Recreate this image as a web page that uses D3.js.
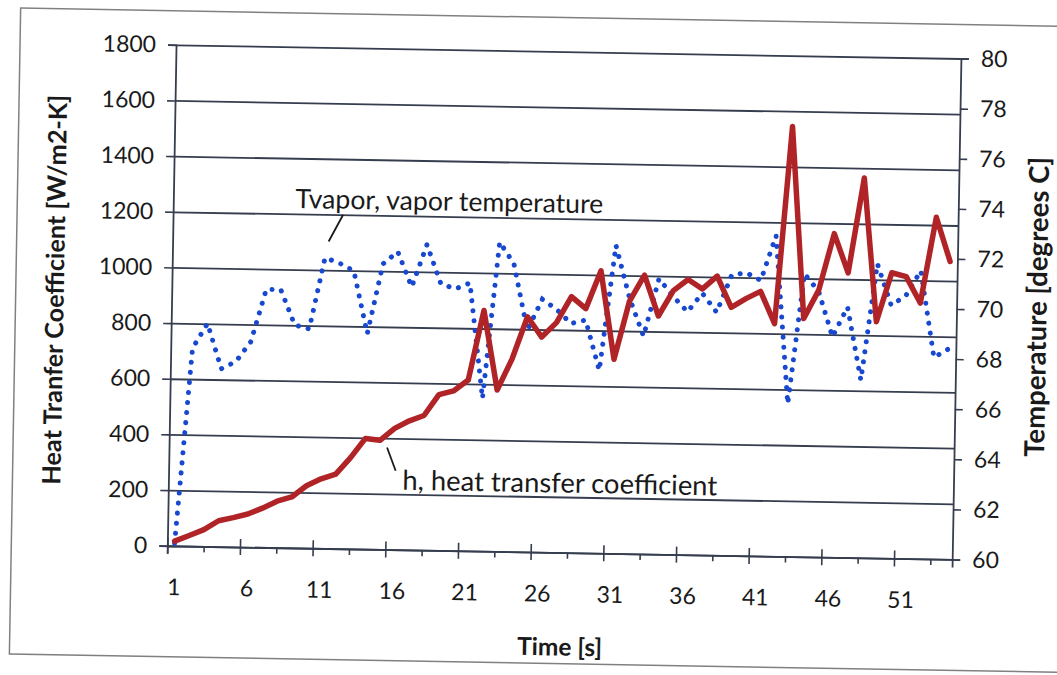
<!DOCTYPE html>
<html>
<head>
<meta charset="utf-8">
<script src="https://d3js.org/d3.v7.min.js"></script>
<style>
  body { margin: 0; background: #fff; }
  svg { display: block; }
  text { font-family: Lato, "Open Sans", sans-serif; fill: #1a1a1a; }
</style>
</head>
<body>
<svg id="chart" width="1057" height="675"></svg>
<script>
// time steps 1..54 (category axis)
var times = d3.range(1, 55);

// h, heat transfer coefficient [W/m2-K]
var hValues = [
  17, 38, 60, 93, 105, 119, 141, 167, 183, 224,
  250, 268, 328, 398, 392, 436, 464, 484, 560, 574,
  614, 865, 580, 694, 845, 773, 826, 920, 878, 1015,
  698, 908, 1002, 856, 948, 989, 956, 1003, 892, 924,
  951, 836, 1545, 856, 959, 1163, 1023, 1365, 849, 1026,
  1013, 919, 1228, 1070
];

// Tvapor, vapor temperature [degrees C]
var tVapor = [
  60.1, 67.9, 68.9, 67.1, 67.4, 68.2, 70.3, 70.3, 68.9, 68.75,
  71.6, 71.4, 71.1, 68.6, 71.4, 71.9, 70.5, 72.2, 70.65, 70.45,
  70.7, 66.1, 72.35, 71.5, 68.85, 70.1, 69.7, 69.15, 69.3, 67.3,
  72.3, 70.2, 68.7, 71.0, 70.3, 69.7, 70.45, 69.7, 71.2, 71.3,
  71.0, 72.8, 66.1, 71.3, 70.6, 68.8, 70.0, 67.1, 71.75, 70.1,
  70.5, 71.5, 68.05, 68.4
];

var xLabels = [1, 6, 11, 16, 21, 26, 31, 36, 41, 46, 51];
var hTicks = d3.range(0, 1801, 200);
var tTicks = d3.range(60, 81, 2);

var plotL = 171, plotR = 956, plotT = 51, plotB = 552;
var gridColor = "#353d4e";
var tickFont = 23;

var svg = d3.select("#chart");
// the scanned chart sits slightly rotated on the page
var g = svg.append("g").attr("transform", "rotate(1, 528, 337)");

// outer chart frame
g.append("rect")
  .attr("x", 15).attr("y", 17)
  .attr("width", 1100).attr("height", 646)
  .attr("fill", "none")
  .attr("stroke", "#808080")
  .attr("stroke-width", 1.5);

var x = d3.scaleBand().domain(times).range([plotL, plotR]);
var xb = d3.scaleLinear().domain([0, times.length]).range([plotL, plotR]);
var yh = d3.scaleLinear().domain([0, 1800]).range([plotB, plotT]);
var yt = d3.scaleLinear().domain([60, 80]).range([plotB, plotT]);

// horizontal gridlines
g.append("g")
  .attr("transform", "translate(" + plotL + ",0)")
  .call(d3.axisLeft(yh).tickValues(hTicks).tickSize(-(plotR - plotL)).tickFormat(""))
  .call(function (s) {
    s.select(".domain").remove();
    s.selectAll("line").attr("stroke", gridColor).attr("stroke-width", 1.8);
  });

// left axis
g.append("g")
  .attr("transform", "translate(" + plotL + ",0)")
  .call(d3.axisLeft(yh).tickValues(hTicks).tickSize(8).tickPadding(12).tickFormat(d3.format("d")))
  .call(function (s) {
    s.select(".domain").attr("stroke", gridColor).attr("stroke-width", 1.8);
    s.selectAll("line").attr("stroke", gridColor).attr("stroke-width", 1.6);
    s.selectAll("text").attr("font-size", tickFont).attr("fill", "#1a1a1a");
  });

// right axis
g.append("g")
  .attr("transform", "translate(" + plotR + ",0)")
  .call(d3.axisRight(yt).tickValues(tTicks).tickSize(8).tickPadding(12))
  .call(function (s) {
    s.select(".domain").attr("stroke", gridColor).attr("stroke-width", 1.8);
    s.selectAll("line").attr("stroke", gridColor).attr("stroke-width", 1.6);
    s.selectAll("text").attr("font-size", tickFont).attr("fill", "#1a1a1a");
  });

// bottom axis: major ticks cross the line, minor ticks below only
g.append("g")
  .attr("transform", "translate(0," + plotB + ")")
  .call(d3.axisBottom(xb).tickValues(d3.range(0, 51, 5)).tickSize(8).tickFormat(""))
  .call(function (s) {
    s.select(".domain").attr("stroke", gridColor).attr("stroke-width", 1.8);
    s.selectAll("line").attr("y1", -8).attr("stroke", gridColor).attr("stroke-width", 1.6);
  });
g.append("g")
  .attr("transform", "translate(0," + plotB + ")")
  .call(d3.axisBottom(xb).tickValues(d3.range(2.5, 54, 5)).tickSize(6).tickFormat(""))
  .call(function (s) {
    s.select(".domain").remove();
    s.selectAll("line").attr("stroke", gridColor).attr("stroke-width", 1.6);
  });
g.append("g")
  .attr("transform", "translate(0," + plotB + ")")
  .call(d3.axisBottom(x).tickValues(xLabels).tickSize(0).tickPadding(33))
  .call(function (s) {
    s.select(".domain").remove();
    s.selectAll("text").attr("font-size", tickFont).attr("fill", "#1a1a1a");
  });

// series
var hLine = d3.line()
  .x(function (d, i) { return x(times[i]) + x.bandwidth() / 2; })
  .y(function (d) { return yh(d); });

var tLine = d3.line()
  .x(function (d, i) { return x(times[i]) + x.bandwidth() / 2; })
  .y(function (d) { return yt(d); });

g.append("path")
  .attr("d", tLine(tVapor))
  .attr("fill", "none")
  .attr("stroke", "#1848d0")
  .attr("stroke-width", 5)
  .attr("stroke-linecap", "round")
  .attr("stroke-dasharray", "0.1 10");

g.append("path")
  .attr("d", hLine(hValues))
  .attr("fill", "none")
  .attr("stroke", "#b02428")
  .attr("stroke-width", 5.5)
  .attr("stroke-linejoin", "round")
  .attr("stroke-linecap", "round");

function fitText(sel, width) {
  var len = sel.node().getComputedTextLength();
  var fs = parseFloat(sel.attr("font-size"));
  sel.attr("font-size", fs * width / len);
}

// axis titles
var lt = g.append("text")
  .attr("transform", "translate(63,298) rotate(-90)")
  .attr("text-anchor", "middle")
  .attr("font-weight", "bold")
  .attr("font-size", 21)
  .text("Heat Tranfer Coefficient [W/m2-K]");
fitText(lt, 390);

var rt = g.append("text")
  .attr("transform", "translate(1046,298) rotate(-90)")
  .attr("text-anchor", "middle")
  .attr("font-weight", "bold")
  .attr("font-size", 21)
  .text("Temperature [degrees C]");
fitText(rt, 300);

var xt = g.append("text")
  .attr("x", 565).attr("y", 655)
  .attr("text-anchor", "middle")
  .attr("font-weight", "bold")
  .attr("font-size", 21)
  .text("Time [s]");
fitText(xt, 85);

// annotations
var ta = g.append("text")
  .attr("x", 293).attr("y", 212)
  .attr("font-size", 24)
  .text("Tvapor, vapor temperature");
fitText(ta, 308);
g.append("line")
  .attr("x1", 341).attr("y1", 218).attr("x2", 327).attr("y2", 245)
  .attr("stroke", "#1a1a1a").attr("stroke-width", 1.8);

var ha = g.append("text")
  .attr("x", 405).attr("y", 492)
  .attr("font-size", 24)
  .text("h, heat transfer coefficient");
fitText(ha, 315);
g.append("line")
  .attr("x1", 389).attr("y1", 450).attr("x2", 398).attr("y2", 473)
  .attr("stroke", "#1a1a1a").attr("stroke-width", 1.8);
</script>
</body>
</html>
